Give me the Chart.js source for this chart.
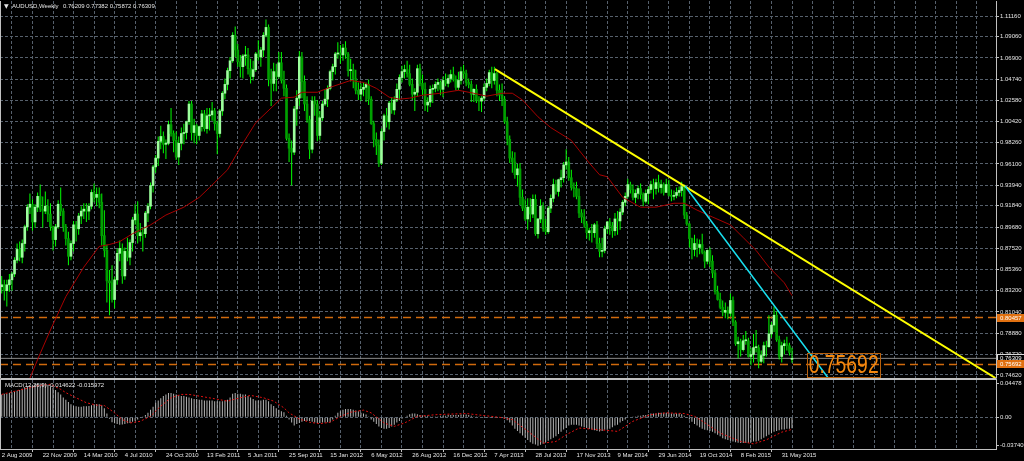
<!DOCTYPE html>
<html>
<head>
<meta charset="utf-8">
<title>AUDUSD Weekly</title>
<script src="https://cdn.jsdelivr.net/npm/chart.js@4.4.1/dist/chart.umd.min.js"></script>
<style>
  html, body { margin: 0; padding: 0; background: #000; overflow: hidden; }
  #wrap { position: relative; width: 1024px; height: 461px; background: #000; }
  canvas { position: absolute; left: 0; }
  #priceChart { top: 0; }
  #macdChart { top: 379px; }
</style>
</head>
<body>
<div id="wrap">
  <canvas id="priceChart" width="1024" height="380"></canvas>
  <canvas id="macdChart" width="1024" height="82"></canvas>
</div>
<script>
// weekly bars, first bar = week of 2 Aug 2009, one label every 16 bars
const dateLabels = ['2 Aug 2009', '22 Nov 2009', '14 Mar 2010', '4 Jul 2010', '24 Oct 2010',
  '13 Feb 2011', '5 Jun 2011', '25 Sep 2011', '15 Jan 2012', '6 May 2012', '26 Aug 2012',
  '16 Dec 2012', '7 Apr 2013', '28 Jul 2013', '17 Nov 2013', '9 Mar 2014', '29 Jun 2014',
  '19 Oct 2014', '8 Feb 2015', '31 May 2015'];

const opens = [0.836,0.838,0.832,0.838,0.843,0.849,0.863,0.874,0.866,0.880,
  0.897,0.917,0.920,0.902,0.917,0.928,0.915,0.913,0.918,0.910,
  0.897,0.884,0.897,0.920,0.913,0.897,0.885,0.867,0.880,0.899,
  0.895,0.908,0.913,0.915,0.913,0.918,0.932,0.927,0.930,0.922,
  0.888,0.873,0.842,0.840,0.823,0.843,0.870,0.875,0.847,0.872,
  0.866,0.881,0.904,0.910,0.888,0.891,0.890,0.911,0.918,0.939,
  0.958,0.967,0.984,0.989,0.981,0.982,1.001,0.992,0.985,0.968,
  0.982,0.992,0.993,1.004,1.022,0.993,1.000,0.990,0.999,1.012,
  0.997,1.010,1.011,1.015,1.002,0.992,1.015,1.033,1.042,1.056,
  1.066,1.092,1.077,1.065,1.060,1.071,1.072,1.058,1.050,1.057,
  1.073,1.070,1.077,1.092,1.100,1.047,1.043,1.055,1.050,1.064,
  1.046,1.038,0.987,0.977,0.973,1.017,1.028,1.070,1.045,1.022,
  1.006,0.976,1.025,1.022,0.990,1.008,1.022,1.027,1.038,1.055,
  1.060,1.073,1.074,1.072,1.079,1.073,1.056,1.057,1.048,1.036,
  1.032,1.037,1.039,1.042,1.027,1.002,0.986,0.980,0.962,0.994,
  1.010,1.004,1.023,1.016,1.026,1.037,1.049,1.055,1.057,1.053,
  1.042,1.032,1.034,1.058,1.043,1.037,1.021,1.024,1.037,1.038,
  1.042,1.044,1.037,1.046,1.043,1.048,1.052,1.047,1.039,1.046,
  1.055,1.053,1.044,1.042,1.032,1.037,1.026,1.025,1.028,1.039,
  1.043,1.054,1.046,1.053,1.036,1.031,1.027,1.004,0.986,0.967,
  0.963,0.950,0.956,0.927,0.916,0.905,0.917,0.910,0.925,0.890,
  0.905,0.918,0.895,0.892,0.916,0.926,0.940,0.933,0.945,0.947,
  0.960,0.963,0.947,0.937,0.936,0.928,0.911,0.907,0.900,0.891,
  0.893,0.891,0.899,0.880,0.872,0.873,0.895,0.902,0.898,0.893,
  0.905,0.903,0.912,0.922,0.928,0.940,0.935,0.927,0.931,0.936,
  0.930,0.923,0.931,0.935,0.940,0.936,0.942,0.937,0.940,0.932,
  0.940,0.929,0.928,0.929,0.932,0.934,0.938,0.909,0.900,0.885,
  0.874,0.880,0.876,0.879,0.871,0.862,0.873,0.862,0.850,0.831,
  0.823,0.815,0.810,0.812,0.809,0.822,0.800,0.778,0.780,0.772,
  0.781,0.781,0.765,0.767,0.774,0.774,0.760,0.766,0.776,0.775,
  0.788,0.797,0.807,0.782,0.765,0.776,0.778,0.776,0.7621];

const highs = [0.847,0.843,0.843,0.849,0.851,0.866,0.880,0.882,0.884,0.899,
  0.920,0.931,0.925,0.920,0.932,0.940,0.928,0.933,0.925,0.921,
  0.898,0.900,0.924,0.937,0.916,0.900,0.892,0.883,0.903,0.903,
  0.911,0.918,0.921,0.921,0.921,0.935,0.941,0.937,0.937,0.931,
  0.914,0.879,0.853,0.858,0.846,0.875,0.883,0.880,0.876,0.886,
  0.884,0.907,0.920,0.923,0.901,0.896,0.913,0.921,0.942,0.960,
  0.970,0.989,1.000,0.994,0.986,1.005,1.018,0.995,0.994,0.989,
  0.998,1.002,1.005,1.025,1.025,1.007,1.002,1.000,1.016,1.016,
  1.018,1.018,1.024,1.018,1.005,1.017,1.035,1.048,1.059,1.070,
  1.095,1.101,1.083,1.072,1.073,1.081,1.079,1.068,1.066,1.075,
  1.087,1.080,1.095,1.108,1.103,1.058,1.064,1.063,1.075,1.075,
  1.056,1.042,0.992,0.985,1.020,1.036,1.076,1.075,1.051,1.030,
  1.010,1.030,1.030,1.026,1.015,1.025,1.037,1.041,1.057,1.063,
  1.075,1.085,1.082,1.083,1.086,1.075,1.068,1.063,1.057,1.044,
  1.043,1.044,1.044,1.047,1.030,1.005,0.993,0.986,0.997,1.012,
  1.018,1.025,1.029,1.030,1.043,1.052,1.061,1.062,1.066,1.062,
  1.048,1.038,1.062,1.063,1.052,1.044,1.029,1.041,1.042,1.045,
  1.048,1.046,1.050,1.053,1.052,1.057,1.060,1.051,1.055,1.060,
  1.062,1.057,1.048,1.046,1.038,1.042,1.030,1.030,1.043,1.048,
  1.057,1.060,1.060,1.055,1.042,1.043,1.030,1.009,0.990,0.974,
  0.973,0.961,0.962,0.935,0.925,0.926,0.926,0.930,0.930,0.906,
  0.925,0.922,0.905,0.918,0.930,0.946,0.945,0.946,0.955,0.963,
  0.976,0.968,0.955,0.942,0.943,0.936,0.915,0.915,0.903,0.896,
  0.900,0.901,0.903,0.886,0.886,0.898,0.903,0.906,0.902,0.911,
  0.913,0.916,0.924,0.932,0.946,0.943,0.940,0.935,0.939,0.941,
  0.932,0.935,0.938,0.944,0.946,0.946,0.950,0.945,0.942,0.946,
  0.945,0.935,0.934,0.937,0.938,0.943,0.940,0.912,0.901,0.886,
  0.889,0.885,0.884,0.890,0.873,0.874,0.876,0.868,0.853,0.837,
  0.830,0.822,0.820,0.816,0.829,0.826,0.802,0.785,0.783,0.787,
  0.791,0.784,0.774,0.788,0.792,0.777,0.771,0.780,0.781,0.807,
  0.800,0.816,0.811,0.786,0.780,0.782,0.785,0.779,0.7738];

const lows = [0.829,0.822,0.816,0.831,0.832,0.846,0.860,0.862,0.860,0.872,
  0.893,0.910,0.893,0.896,0.912,0.912,0.896,0.910,0.902,0.893,
  0.873,0.877,0.895,0.908,0.892,0.878,0.858,0.863,0.872,0.882,
  0.889,0.900,0.905,0.902,0.904,0.915,0.922,0.918,0.916,0.878,
  0.866,0.820,0.807,0.820,0.814,0.838,0.862,0.839,0.843,0.862,
  0.858,0.872,0.899,0.880,0.882,0.872,0.886,0.902,0.915,0.932,
  0.952,0.959,0.976,0.972,0.966,0.980,0.989,0.973,0.965,0.960,
  0.975,0.981,0.986,1.001,0.985,0.982,0.981,0.985,0.994,0.994,
  0.992,0.995,1.005,0.995,0.971,0.988,1.010,1.027,1.036,1.048,
  1.064,1.070,1.060,1.049,1.048,1.061,1.052,1.043,1.046,1.055,
  1.066,1.060,1.070,1.090,1.040,1.020,1.035,1.035,1.048,1.043,
  1.030,0.985,0.963,0.939,0.970,1.000,1.020,1.028,1.015,1.003,
  0.966,0.972,1.010,0.984,0.985,1.005,1.020,1.019,1.036,1.046,
  1.052,1.068,1.063,1.066,1.068,1.050,1.045,1.038,1.032,1.026,
  1.025,1.030,1.024,1.021,1.001,0.978,0.970,0.958,0.960,0.985,
  0.998,0.996,1.012,1.011,1.024,1.026,1.044,1.048,1.049,1.040,
  1.026,1.015,1.030,1.040,1.031,1.015,1.014,1.019,1.023,1.034,
  1.035,1.031,1.029,1.040,1.039,1.044,1.045,1.036,1.036,1.042,
  1.048,1.040,1.038,1.024,1.024,1.023,1.015,1.014,1.025,1.035,
  1.040,1.038,1.042,1.030,1.025,1.020,1.002,0.980,0.962,0.952,
  0.946,0.938,0.919,0.913,0.903,0.894,0.902,0.906,0.888,0.885,
  0.901,0.892,0.889,0.890,0.911,0.922,0.930,0.928,0.937,0.942,
  0.955,0.944,0.934,0.927,0.925,0.906,0.901,0.896,0.885,0.883,
  0.881,0.886,0.875,0.866,0.866,0.870,0.890,0.889,0.886,0.888,
  0.889,0.894,0.909,0.918,0.926,0.931,0.924,0.921,0.925,0.925,
  0.918,0.921,0.920,0.931,0.925,0.930,0.932,0.931,0.929,0.932,
  0.928,0.923,0.924,0.926,0.928,0.928,0.905,0.898,0.876,0.864,
  0.867,0.866,0.869,0.869,0.855,0.859,0.856,0.845,0.828,0.822,
  0.813,0.806,0.804,0.803,0.806,0.796,0.776,0.763,0.765,0.770,
  0.777,0.764,0.756,0.759,0.769,0.753,0.758,0.758,0.765,0.774,
  0.784,0.790,0.780,0.762,0.759,0.767,0.771,0.766,0.7587];

const closes = [0.838,0.832,0.838,0.843,0.849,0.863,0.874,0.866,0.880,0.897,
  0.917,0.920,0.902,0.917,0.928,0.915,0.913,0.918,0.910,0.897,
  0.884,0.897,0.920,0.913,0.897,0.885,0.867,0.880,0.899,0.895,
  0.908,0.913,0.915,0.913,0.918,0.932,0.927,0.930,0.922,0.888,
  0.873,0.842,0.840,0.823,0.843,0.870,0.875,0.847,0.872,0.866,
  0.881,0.904,0.910,0.888,0.891,0.890,0.911,0.918,0.939,0.958,
  0.967,0.984,0.989,0.981,0.982,1.001,0.992,0.985,0.968,0.982,
  0.992,0.993,1.004,1.022,0.993,1.000,0.990,0.999,1.012,0.997,
  1.010,1.011,1.015,1.002,0.992,1.015,1.033,1.042,1.056,1.066,
  1.092,1.077,1.065,1.060,1.071,1.072,1.058,1.050,1.057,1.073,
  1.070,1.077,1.092,1.100,1.047,1.043,1.055,1.050,1.064,1.046,
  1.038,0.987,0.977,0.973,1.017,1.028,1.070,1.045,1.022,1.006,
  0.976,1.025,1.022,0.990,1.008,1.022,1.027,1.038,1.055,1.060,
  1.073,1.074,1.072,1.079,1.073,1.056,1.057,1.048,1.036,1.032,
  1.037,1.039,1.042,1.027,1.002,0.986,0.980,0.962,0.994,1.010,
  1.004,1.023,1.016,1.026,1.037,1.049,1.055,1.057,1.053,1.042,
  1.032,1.034,1.058,1.043,1.037,1.021,1.024,1.037,1.038,1.042,
  1.044,1.037,1.046,1.043,1.048,1.052,1.047,1.039,1.046,1.055,
  1.053,1.044,1.042,1.032,1.037,1.026,1.025,1.028,1.039,1.043,
  1.054,1.046,1.053,1.036,1.031,1.027,1.004,0.986,0.967,0.963,
  0.950,0.956,0.927,0.916,0.905,0.917,0.910,0.925,0.890,0.905,
  0.918,0.895,0.892,0.916,0.926,0.940,0.933,0.945,0.947,0.960,
  0.963,0.947,0.937,0.936,0.928,0.911,0.907,0.900,0.891,0.893,
  0.891,0.899,0.880,0.872,0.873,0.895,0.902,0.898,0.893,0.905,
  0.903,0.912,0.922,0.928,0.940,0.935,0.927,0.931,0.936,0.930,
  0.923,0.931,0.935,0.940,0.936,0.942,0.937,0.940,0.932,0.940,
  0.929,0.928,0.929,0.932,0.934,0.938,0.909,0.900,0.885,0.874,
  0.880,0.876,0.879,0.871,0.862,0.873,0.862,0.850,0.831,0.823,
  0.815,0.810,0.812,0.809,0.822,0.800,0.778,0.780,0.772,0.781,
  0.781,0.765,0.767,0.774,0.774,0.760,0.766,0.776,0.775,0.788,
  0.797,0.807,0.782,0.765,0.776,0.778,0.776,0.769,0.7631];

// moving average (red line), read at sample bars
const maBars = [8, 11, 15, 19, 25, 32, 38, 42, 46, 51, 58, 64, 71, 77, 81, 88, 94, 99, 105, 109,
  114, 117, 123, 128, 136, 141, 146, 151, 155, 159, 164, 171, 178, 184, 189, 195, 199, 203, 209, 214,
  222, 225, 229, 233, 236, 242, 249, 255, 262, 266, 271, 277, 284, 289, 294, 299, 305, 308];
const maValues = [0.725, 0.743, 0.768, 0.792, 0.826, 0.856, 0.877, 0.879, 0.882, 0.890, 0.899, 0.909, 0.917, 0.927, 0.937, 0.955, 0.982, 1.003, 1.018, 1.028,
  1.029, 1.034, 1.034, 1.039, 1.046, 1.044, 1.038, 1.029, 1.027, 1.028, 1.031, 1.033, 1.036, 1.033, 1.030, 1.033, 1.033, 1.026, 1.009, 0.998,
  0.985, 0.975, 0.962, 0.950, 0.948, 0.927, 0.917, 0.917, 0.921, 0.921, 0.914, 0.907, 0.899, 0.886, 0.873, 0.856, 0.840, 0.827];

// MACD(12,26,9) main values (histogram) per bar
const macdMain = [0.030,0.031,0.031,0.032,0.033,0.034,0.035,0.036,0.0375,0.039,
  0.041,0.042,0.043,0.044,0.0445,0.0448,0.0445,0.044,0.043,0.041,
  0.039,0.036,0.033,0.030,0.026,0.023,0.020,0.017,0.015,0.0146,
  0.014,0.014,0.0145,0.0146,0.015,0.016,0.017,0.0175,0.017,0.016,
  0.012,0.005,-0.002,-0.0066,-0.008,-0.009,-0.0097,-0.0095,-0.009,-0.008,
  -0.0075,-0.006,-0.0045,-0.003,-0.001,0.001,0.003,0.006,0.010,0.014,
  0.019,0.022,0.025,0.028,0.030,0.032,0.032,0.031,0.030,0.029,
  0.028,0.028,0.027,0.026,0.025,0.024,0.024,0.023,0.023,0.022,
  0.022,0.022,0.022,0.021,0.021,0.021,0.021,0.022,0.023,0.026,
  0.031,0.032,0.031,0.031,0.030,0.030,0.028,0.026,0.024,0.022,
  0.022,0.022,0.023,0.023,0.021,0.017,0.015,0.012,0.010,0.008,
  0.0066,0.002,-0.003,-0.007,-0.011,-0.009,-0.0075,-0.006,-0.005,-0.005,
  -0.005,-0.006,-0.007,-0.0075,-0.0075,-0.007,-0.007,-0.0066,-0.0066,-0.003,
  0.002,0.006,0.008,0.010,0.011,0.011,0.011,0.010,0.009,0.008,
  0.006,0.005,0.0035,0.001,-0.003,-0.006,-0.009,-0.012,-0.014,-0.015,
  -0.015,-0.014,-0.012,-0.010,-0.007,-0.005,-0.002,0.000,0.002,0.004,
  0.005,0.005,0.004,0.003,0.002,0.002,0.002,0.001,0.001,0.001,
  0.001,0.002,0.002,0.002,0.003,0.003,0.003,0.003,0.003,0.0035,
  0.0035,0.0035,0.003,0.002,0.001,0.001,0.001,0.000,-0.001,-0.001,
  -0.001,-0.001,-0.001,-0.001,-0.001,-0.001,-0.002,-0.004,-0.007,-0.011,
  -0.015,-0.018,-0.021,-0.024,-0.027,-0.030,-0.033,-0.035,-0.036,-0.0374,
  -0.0363,-0.035,-0.033,-0.031,-0.029,-0.027,-0.025,-0.022,-0.019,-0.016,
  -0.014,-0.011,-0.0097,-0.010,-0.010,-0.011,-0.012,-0.013,-0.014,-0.0155,
  -0.016,-0.017,-0.018,-0.0186,-0.018,-0.0164,-0.0164,-0.015,-0.013,-0.011,
  -0.0097,-0.007,-0.005,-0.003,-0.001,0.000,0.001,0.001,0.002,0.002,
  0.003,0.003,0.004,0.005,0.005,0.005,0.006,0.006,0.006,0.006,
  0.006,0.005,0.005,0.005,0.005,0.004,0.002,-0.001,-0.003,-0.006,
  -0.009,-0.011,-0.013,-0.015,-0.0164,-0.017,-0.018,-0.019,-0.021,-0.023,
  -0.025,-0.0275,-0.029,-0.030,-0.031,-0.032,-0.033,-0.0335,-0.034,-0.034,
  -0.034,-0.034,-0.033,-0.032,-0.032,-0.031,-0.029,-0.027,-0.025,-0.023,
  -0.021,-0.019,-0.018,-0.017,-0.016,-0.016,-0.015,-0.015,-0.0146];

// MACD signal (red dotted), read at sample bars
const signalBars = [0, 7, 15, 19, 23, 25, 29, 33, 37, 40, 44, 47, 50, 54, 58, 62, 66, 70, 73, 77,
  83, 88, 93, 97, 102, 106, 110, 112, 116, 120, 124, 128, 132, 136, 141, 144, 149, 153, 157, 162,
  170, 181, 194, 199, 206, 211, 216, 220, 225, 233, 240, 246, 253, 259, 266, 270, 273, 280, 288, 293,
  298, 304, 308];
const signalValues = [0.0301, 0.0359, 0.0421, 0.0434, 0.0368, 0.0324, 0.0257, 0.0191, 0.016, 0.0155, 0.0058, -0.0031, -0.0075, -0.0053, 0.0013, 0.0147, 0.0257, 0.0301, 0.0301, 0.0279,
  0.0244, 0.0213, 0.0257, 0.0288, 0.0257, 0.0213, 0.0124, 0.0058, -0.0022, -0.0066, -0.0084, -0.0066, 0.0009, 0.0067, 0.0094, 0.0058, -0.0075, -0.012, -0.0075, 0.0013,
  0.0036, 0.0049, 0.0, -0.0031, -0.0208, -0.0341, -0.0319, -0.023, -0.0142, -0.0164, -0.0186, -0.0053, 0.0036, 0.0058, 0.0049, 0.0013, -0.005, -0.0208, -0.0319, -0.035,
  -0.0297, -0.0196, -0.01597];

const priceTicks = [1.1116, 1.0906, 1.069, 1.0474, 1.0258, 1.0042, 0.9826, 0.961, 0.9394, 0.9184,
  0.8968, 0.8752, 0.8536, 0.832, 0.8104, 0.7888, 0.7672, 0.7462];
const macdTicks = [0.04478, 0, -0.037402];
const macdTickLabels = ['0.04478', '0.00', '-0.037402'];

// drawn objects
const levelLines = [0.80457, 0.75692];
const bidPrice = 0.76309;
const yellowTrend = [[192.2, 1.0576], [387.3, 0.7431]];
const cyanTrend = [[266.3, 0.9385], [322.1, 0.7431]];
const priceTag = { bar: 313.9, price: 0.7684, text: '0.75692' };
const lastBar = { o: '0.76209', h: '0.77382', l: '0.75872', c: '0.76309' };
const macdLast = ['-0.014622', '-0.015972'];

const xMin = -0.66, xMax = 387.5;
const yMin = 0.7431, yMax = 1.1269;
const gridColor = '#56606c';
const frameColor = '#c0c0c0';
const textColor = '#e6e6e6';
const fontFamily = '"Liberation Sans", Arial, sans-serif';

Chart.defaults.font.family = fontFamily;
Chart.defaults.color = textColor;

const gridBars = [];
for (let b = 0; b <= xMax; b += 8) gridBars.push(b);

const wickData = highs.map((h, i) => ({ x: i, y: [lows[i], h] }));
const bodyData = opens.map((o, i) => ({ x: i, y: [o, closes[i]] }));
const bodyColors = opens.map((o, i) => closes[i] >= o ? '#9dff9d' : '#00a000');
const maData = maBars.map((b, i) => ({ x: b, y: maValues[i] }));
const toPts = arr => arr.map(p => ({ x: p[0], y: p[1] }));

// drop the label half-height padding chart.js adds, so the plot keeps its exact box
function noPad(s) {
  s.paddingTop = 0; s.paddingBottom = 0; s.paddingLeft = 0; s.paddingRight = 0;
}

function xAxis(withLabels) {
  return {
    type: 'linear', min: xMin, max: xMax, offset: false,
    afterBuildTicks: s => { s.ticks = gridBars.map(v => ({ value: v })); },
    afterFit: s => { s.height = withLabels ? 12 : 0; noPad(s); },
    grid: {
      color: gridColor, lineWidth: 1, drawTicks: withLabels, tickLength: 3,
      tickColor: c => (c.tick && c.tick.value % 16 === 0 && c.tick.value / 16 < dateLabels.length) ? frameColor : 'rgba(0,0,0,0)',
      tickBorderDash: []
    },
    border: { display: false, dash: [3, 2] },
    ticks: {
      display: withLabels, autoSkip: false, maxRotation: 0, minRotation: 0, align: 'start',
      padding: 0, color: textColor, font: { size: 6 },
      callback: v => (v % 16 === 0 && dateLabels[v / 16]) ? dateLabels[v / 16] : ''
    }
  };
}

const priceOverlay = {
  id: 'priceOverlay',
  afterDraw(chart) {
    const { ctx, chartArea: a, scales: { x, y } } = chart;
    ctx.save();
    ctx.strokeStyle = frameColor;
    ctx.lineWidth = 1;
    ctx.beginPath();
    ctx.moveTo(a.left + 0.5, a.top);
    ctx.lineTo(a.left + 0.5, a.bottom + 0.5);
    ctx.lineTo(a.right + 0.5, a.bottom + 0.5);
    ctx.lineTo(a.right + 0.5, a.top);
    ctx.stroke();

    ctx.fillStyle = textColor;
    ctx.textBaseline = 'middle';
    ctx.font = '6px "DejaVu Sans"';
    ctx.fillText('\u25BC', 4, 6.5);
    ctx.font = '6px ' + fontFamily;
    ctx.fillText('AUDUSD,Weekly', 12, 6.5);
    ctx.fillText([lastBar.o, lastBar.h, lastBar.l, lastBar.c].join(' '), 63, 6.5);

    // price tags on the right scale
    const tags = [
      { v: levelLines[0], bg: '#e07010', fg: '#ffffff', line: null },
      { v: bidPrice, bg: '#000000', fg: '#ffffff', line: '#d8d8d8' },
      { v: levelLines[1], bg: '#e07010', fg: '#ffffff', line: null }
    ];
    tags.forEach(t => {
      const py = Math.round(y.getPixelForValue(t.v));
      ctx.fillStyle = t.bg;
      ctx.fillRect(a.right + 1, py - 4, 27, 8);
      if (t.line) {
        ctx.strokeStyle = t.line;
        ctx.strokeRect(a.right + 1.5, py - 3.5, 27, 7);
      }
      ctx.fillStyle = t.fg;
      ctx.font = '6px ' + fontFamily;
      ctx.fillText(t.v.toFixed(5), a.right + 4, py + 0.5);
    });

    // big price label object
    const bx = x.getPixelForValue(priceTag.bar);
    const by = y.getPixelForValue(priceTag.price);
    ctx.strokeStyle = '#b8600c';
    ctx.lineWidth = 1;
    ctx.strokeRect(Math.round(bx) + 0.5, Math.round(by) + 0.5, 73, 24);
    ctx.font = '25px ' + fontFamily;
    const w = ctx.measureText(priceTag.text).width;
    ctx.save();
    ctx.translate(bx + 1.5, by + 13);
    ctx.scale(70 / w, 1);
    ctx.fillStyle = '#f5880f';
    ctx.textBaseline = 'middle';
    ctx.fillText(priceTag.text, 0, 0);
    ctx.restore();
    ctx.restore();
  }
};

new Chart(document.getElementById('priceChart'), {
  type: 'bar',
  data: {
    datasets: [
      { type: 'line', data: toPts(cyanTrend), borderColor: '#19e0f0', borderWidth: 1.5, pointRadius: 0, order: 1 },
      { type: 'line', data: toPts(yellowTrend), borderColor: '#ffff00', borderWidth: 2, pointRadius: 0, order: 2 },
      { type: 'line', data: maData, borderColor: '#a80000', borderWidth: 1, pointRadius: 0, order: 3 },
      { data: bodyData, backgroundColor: bodyColors, barThickness: 2, minBarLength: 1, grouped: false, order: 4 },
      { data: wickData, backgroundColor: '#00ff00', barThickness: 1, inflateAmount: 0, grouped: false, order: 5 },
      { type: 'line', data: [{ x: xMin, y: bidPrice }, { x: xMax, y: bidPrice }], borderColor: '#8a8a8a', borderWidth: 1, pointRadius: 0, order: 6 },
      { type: 'line', data: [{ x: xMin, y: levelLines[0] }, { x: xMax, y: levelLines[0] }], borderColor: '#d06a0c', borderWidth: 1.5, borderDash: [8, 5], pointRadius: 0, order: 7 },
      { type: 'line', data: [{ x: xMin, y: levelLines[1] }, { x: xMax, y: levelLines[1] }], borderColor: '#d06a0c', borderWidth: 1.5, borderDash: [8, 5], pointRadius: 0, order: 8 }
    ]
  },
  options: {
    responsive: false,
    animation: false,
    events: [],
    layout: { padding: { left: 0, right: 0, top: 1, bottom: 2 } },
    plugins: { legend: { display: false }, tooltip: { enabled: false } },
    scales: {
      x: xAxis(false),
      y: {
        position: 'right', min: yMin, max: yMax,
        afterBuildTicks: s => { s.ticks = priceTicks.map(v => ({ value: v })); },
        afterFit: s => { s.width = 28; noPad(s); },
        grid: { color: gridColor, drawTicks: true, tickLength: 3, tickColor: frameColor, tickBorderDash: [] },
        border: { display: false, dash: [3, 2] },
        ticks: { autoSkip: false, padding: 1, color: textColor, font: { size: 6 }, callback: v => Number(v).toFixed(5) }
      }
    }
  },
  plugins: [priceOverlay]
});

const macdOverlay = {
  id: 'macdOverlay',
  afterDraw(chart) {
    const { ctx, chartArea: a } = chart;
    ctx.save();
    ctx.strokeStyle = frameColor;
    ctx.lineWidth = 1;
    ctx.strokeRect(a.left + 0.5, a.top - 0.5, a.right - a.left, a.bottom - a.top + 1);
    ctx.fillStyle = textColor;
    ctx.textBaseline = 'middle';
    ctx.font = '6px ' + fontFamily;
    ctx.fillText('MACD(12,26,9) ' + macdLast.join(' '), 5, 6);
    ctx.restore();
  }
};

new Chart(document.getElementById('macdChart'), {
  type: 'bar',
  data: {
    datasets: [
      { type: 'line', data: signalBars.map((b, i) => ({ x: b, y: signalValues[i] })), borderColor: '#e01010', borderWidth: 1, borderDash: [2, 2], pointRadius: 0, order: 1 },
      { data: macdMain.map((v, i) => ({ x: i, y: v })), backgroundColor: '#b4b4b4', barThickness: 1, inflateAmount: 0, grouped: false, order: 2 }
    ]
  },
  options: {
    responsive: false,
    animation: false,
    events: [],
    layout: { padding: { left: 0, right: 0, top: 1, bottom: 0 } },
    plugins: { legend: { display: false }, tooltip: { enabled: false } },
    scales: {
      x: xAxis(true),
      y: {
        position: 'right', min: -0.0418, max: 0.0491,
        afterBuildTicks: s => { s.ticks = macdTicks.map(v => ({ value: v })); },
        afterFit: s => { s.width = 28; noPad(s); },
        grid: {
          color: c => (c.tick && c.tick.value === 0) ? gridColor : 'rgba(0,0,0,0)',
          drawTicks: true, tickLength: 3, tickColor: frameColor, tickBorderDash: []
        },
        border: { display: false, dash: [3, 2] },
        ticks: { autoSkip: false, padding: 1, color: textColor, font: { size: 6 }, callback: (v, i) => macdTickLabels[i] }
      }
    }
  },
  plugins: [macdOverlay]
});
</script>
</body>
</html>
